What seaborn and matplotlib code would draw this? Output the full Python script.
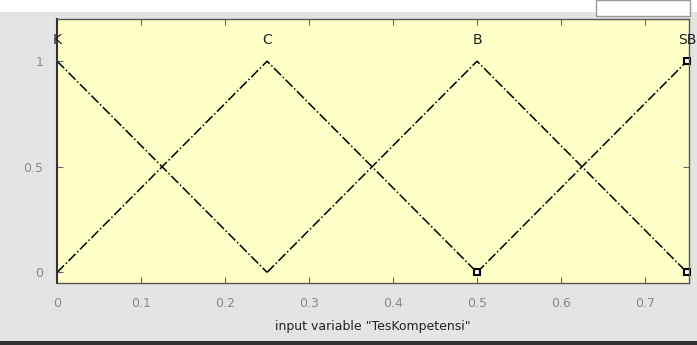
import pandas as pd
import matplotlib.pyplot as plt
import seaborn as sns
from matplotlib.patches import Rectangle

# Membership functions (trimf vertices) for "TesKompetensi"
mf_names = ['K', 'C', 'B', 'SB']
mf_x = [[0, 0.25], [0, 0.25, 0.5], [0.25, 0.5, 0.75], [0.5, 0.75]]
mf_y = [[1, 0], [0, 1, 0], [0, 1, 0], [0, 1]]
label_x = [0, 0.25, 0.5, 0.75]
# square handles of the selected MF
marker_x = [0.5, 0.75, 0.75]
marker_y = [0, 1, 0]
xticks = [0, 0.1, 0.2, 0.3, 0.4, 0.5, 0.6, 0.7]
xtick_labels = ['0', '0.1', '0.2', '0.3', '0.4', '0.5', '0.6', '0.7']
yticks = [0, 0.5, 1]
ytick_labels = ['0', '0.5', '1']

rows = []
for name, xs, ys in zip(mf_names, mf_x, mf_y):
    for x, y in zip(xs, ys):
        rows.append({'mf': name, 'x': x, 'y': y})
df = pd.DataFrame(rows)

sns.set_style('white')
plt.rcParams['font.family'] = ['DejaVu Sans']

fig = plt.figure(figsize=(6.97, 3.45), dpi=100)
fig.patch.set_facecolor('#e4e4e4')
# white strip at the top and dark bar at the bottom (screenshot frame)
fig.patches.append(Rectangle((0, 0.965), 1, 0.035, transform=fig.transFigure,
                             facecolor='white', edgecolor='none', zorder=0))
fig.patches.append(Rectangle((0.855, 0.955), 0.135, 0.045, transform=fig.transFigure,
                             facecolor='white', edgecolor='#999999', lw=1, zorder=0))
fig.patches.append(Rectangle((0, 0), 1, 0.012, transform=fig.transFigure,
                             facecolor='#333333', edgecolor='none', zorder=0))

ax = fig.add_axes([0.082, 0.18, 0.906, 0.765])
ax.set_facecolor('#ffffc8')

for name in mf_names:
    sub = df[df['mf'] == name]
    sns.lineplot(data=sub, x='x', y='y', ax=ax, color='black',
                 linestyle='-.', linewidth=1.1, legend=False)

ax.plot(marker_x, marker_y, linestyle='none', marker='s', markersize=5,
        markerfacecolor='white', markeredgecolor='black', markeredgewidth=1.5,
        clip_on=False)

for name, lx in zip(mf_names, label_x):
    ax.text(lx, 1.1, name, ha='center', va='center', fontsize=10, color='#222222')

ax.set_xlim(0, 0.752)
ax.set_ylim(-0.05, 1.2)
ax.set_xticks(xticks)
ax.set_xticklabels(xtick_labels)
ax.set_yticks(yticks)
ax.set_yticklabels(ytick_labels)
ax.tick_params(direction='in', length=4, color='#666666', labelcolor='#8a8a8a',
               labelsize=9, pad=10, top=True, right=True, bottom=True, left=True)
for s in ax.spines.values():
    s.set_color('#555555')
    s.set_linewidth(1)
ax.spines['left'].set_color('#333333')
ax.spines['left'].set_linewidth(1.5)
ax.set_xlabel('input variable "TesKompetensi"', fontsize=9, color='#222222', labelpad=7)
ax.set_ylabel('')

fig.savefig('out.png', dpi=100, facecolor=fig.get_facecolor())
